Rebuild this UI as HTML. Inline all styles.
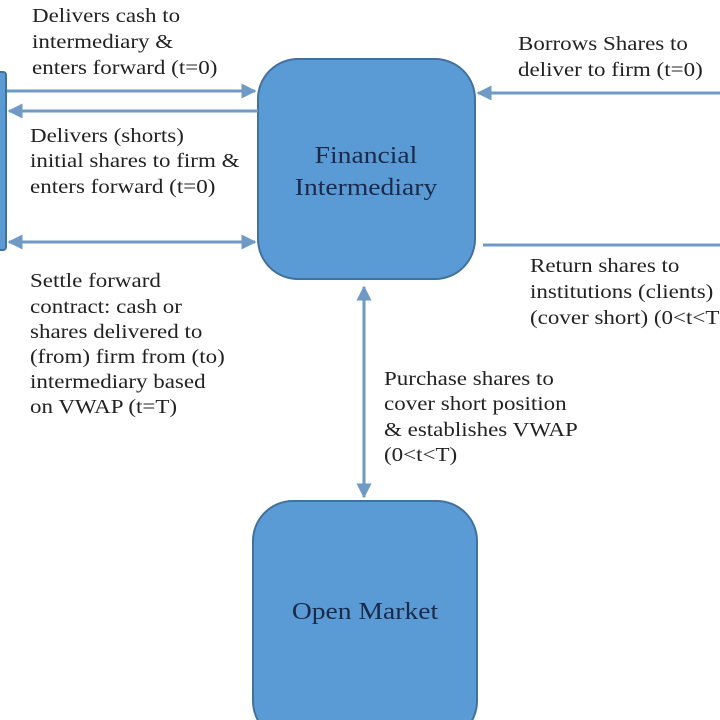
<!DOCTYPE html>
<html><head><meta charset="utf-8"><style>
html,body{margin:0;padding:0;background:#fff;width:720px;height:720px;overflow:hidden}
text{font-family:"Liberation Serif",serif;fill:#222;font-size:20px}
.b{fill:#1c2a4a;font-size:24px}
</style></head><body>
<svg width="720" height="720" xmlns="http://www.w3.org/2000/svg">
<defs>
<marker id="a" viewBox="0 0 10 10" refX="9" refY="5" markerWidth="5" markerHeight="5" orient="auto-start-reverse"><path d="M0,0 L10,5 L0,10 z" fill="#6f9ac6"/></marker>
</defs>
<rect x="-10" y="72" width="16" height="178" rx="3" fill="#5b9bd5" stroke="#41719c" stroke-width="2"/>
<rect x="258" y="59" width="217" height="220" rx="40" fill="#5b9bd5" stroke="#41719c" stroke-width="2"/>
<rect x="253" y="501" width="224" height="240" rx="40" fill="#5b9bd5" stroke="#41719c" stroke-width="2"/>
<g stroke="#6f9ac6" stroke-width="3" fill="none">
<line x1="7" y1="91" x2="255" y2="91" marker-end="url(#a)"/>
<line x1="258" y1="111" x2="9" y2="111" marker-end="url(#a)"/>
<line x1="9" y1="242" x2="255" y2="242" marker-start="url(#a)" marker-end="url(#a)"/>
<line x1="720" y1="93" x2="478" y2="93" marker-end="url(#a)"/>
<line x1="483" y1="245" x2="720" y2="245"/>
<line x1="364" y1="287" x2="364" y2="497" marker-start="url(#a)" marker-end="url(#a)"/>
</g>
<text transform="translate(32,22) scale(1.15,1)">Delivers cash to</text>
<text transform="translate(32,48) scale(1.15,1)">intermediary &amp;</text>
<text transform="translate(32,74) scale(1.15,1)">enters forward (t=0)</text>
<text transform="translate(30,142) scale(1.15,1)">Delivers (shorts)</text>
<text transform="translate(30,167) scale(1.15,1)">initial shares to firm &amp;</text>
<text transform="translate(30,193) scale(1.15,1)">enters forward (t=0)</text>
<text transform="translate(30,287) scale(1.15,1)">Settle forward</text>
<text transform="translate(30,313) scale(1.15,1)">contract: cash or</text>
<text transform="translate(30,338) scale(1.15,1)">shares delivered to</text>
<text transform="translate(30,363) scale(1.15,1)">(from) firm from (to)</text>
<text transform="translate(30,388) scale(1.15,1)">intermediary based</text>
<text transform="translate(30,413) scale(1.15,1)">on VWAP (t=T)</text>
<text transform="translate(518,50) scale(1.15,1)">Borrows Shares to</text>
<text transform="translate(518,76) scale(1.15,1)">deliver to firm (t=0)</text>
<text transform="translate(530,272) scale(1.15,1)">Return shares to</text>
<text transform="translate(530,298) scale(1.15,1)">institutions (clients)</text>
<text transform="translate(530,324) scale(1.15,1)">(cover short) (0&lt;t&lt;T)</text>
<text transform="translate(384,385) scale(1.15,1)">Purchase shares to</text>
<text transform="translate(384,410) scale(1.15,1)">cover short position</text>
<text transform="translate(384,436) scale(1.15,1)">&amp; establishes VWAP</text>
<text transform="translate(384,461) scale(1.15,1)">(0&lt;t&lt;T)</text>
<text class="b" transform="translate(366,163) scale(1.15,1)" text-anchor="middle">Financial</text>
<text class="b" transform="translate(366,195) scale(1.15,1)" text-anchor="middle">Intermediary</text>
<text class="b" transform="translate(365,619) scale(1.15,1)" text-anchor="middle">Open Market</text>
</svg>
</body></html>
